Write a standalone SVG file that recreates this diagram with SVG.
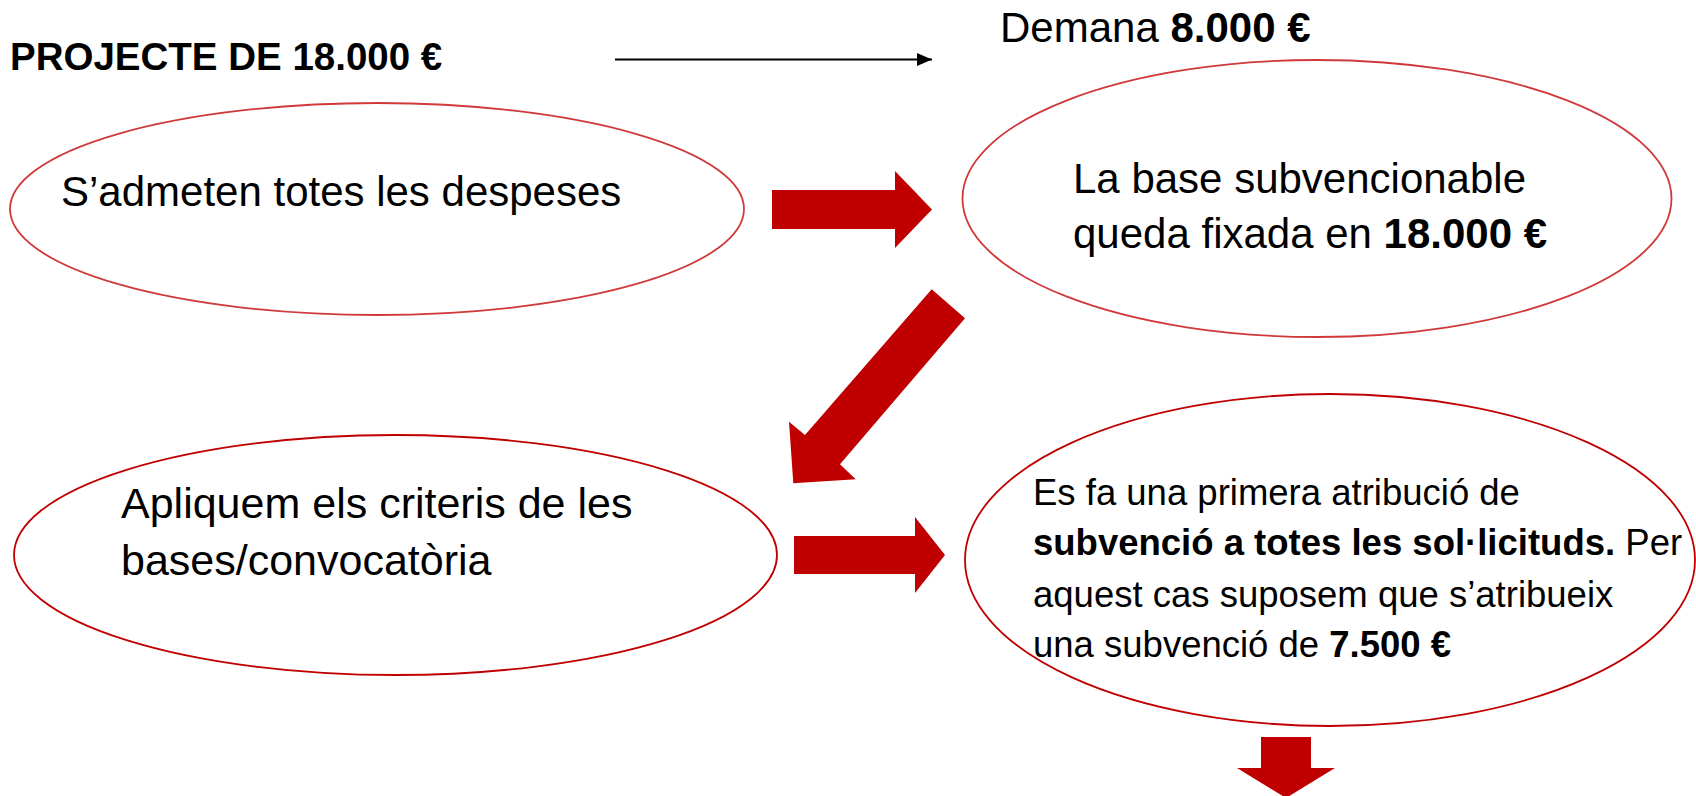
<svg xmlns="http://www.w3.org/2000/svg" width="1696" height="796" viewBox="0 0 1696 796">
  <defs>
    <style>
      text { font-family: "Liberation Sans", Arial, sans-serif; fill: #000; }
      .b { font-weight: bold; }
      .e1 { fill: #fff; stroke: #D0393A; stroke-width: 1.8; }
      .e2 { fill: #fff; stroke: #C00000; stroke-width: 1.8; }
      .blk { fill: #C00000; stroke: none; }
      .ln { stroke: #000; stroke-width: 2; fill: none; }
    </style>
    <marker id="ah" viewBox="0 0 10 10" refX="10" refY="5" markerWidth="15" markerHeight="13" markerUnits="userSpaceOnUse" orient="auto" preserveAspectRatio="none">
      <path d="M0,0 L10,5 L0,10 Z" fill="#000"/>
    </marker>
  </defs>
  <rect width="1696" height="796" fill="#fff"/>

  <g id="title">
    <text x="10" y="70" class="b" font-size="38.5">PROJECTE DE 18.000 €</text>
  </g>
  <g id="demana">
    <text x="1000" y="42" font-size="42">Demana <tspan class="b">8.000 €</tspan></text>
  </g>

  <g id="node-admeten">
    <ellipse class="e1" cx="377" cy="209" rx="367" ry="106"/>
    <text x="61" y="206" font-size="42">S’admeten totes les despeses</text>
  </g>

  <g id="node-base">
    <ellipse class="e1" cx="1317" cy="198.5" rx="354.5" ry="138.5"/>
    <text x="1073" y="193" font-size="42">La base subvencionable</text>
    <text x="1073" y="248" font-size="42">queda fixada en <tspan class="b">18.000 €</tspan></text>
  </g>

  <g id="node-criteris">
    <ellipse class="e2" cx="395.5" cy="555" rx="381.5" ry="120"/>
    <text x="121" y="518" font-size="43">Apliquem els criteris de les</text>
    <text x="121" y="575" font-size="43">bases/convocatòria</text>
  </g>

  <g id="node-atribucio">
    <ellipse class="e2" cx="1330" cy="560" rx="365" ry="166"/>
    <text x="1033" y="505" font-size="36.5">Es fa una primera atribució de</text>
    <text x="1033" y="555" font-size="36.5"><tspan class="b">subvenció a totes les sol·licituds.</tspan> Per</text>
    <text x="1033" y="607" font-size="36.5">aquest cas suposem que s’atribueix</text>
    <text x="1033" y="657" font-size="36.5">una subvenció de <tspan class="b">7.500 €</tspan></text>
  </g>

  <g id="connectors">
    <line class="ln" x1="615" y1="59.5" x2="932" y2="59.5" marker-end="url(#ah)"/>
    <polygon class="blk" points="772,190 895,190 895,171 932,209.5 895,248 895,229 772,229"/>
    <polygon class="blk" points="931.7,289.3 965,318.3 840,464.3 855.7,479.3 793.3,483.3 789,421.7 805,435"/>
    <polygon class="blk" points="794,536 915,536 915,517 945,555 915,593 915,574 794,574"/>
    <polygon class="blk" points="1261,737 1311,737 1311,768 1335,768 1286,798 1237,768 1261,768"/>
  </g>
</svg>
